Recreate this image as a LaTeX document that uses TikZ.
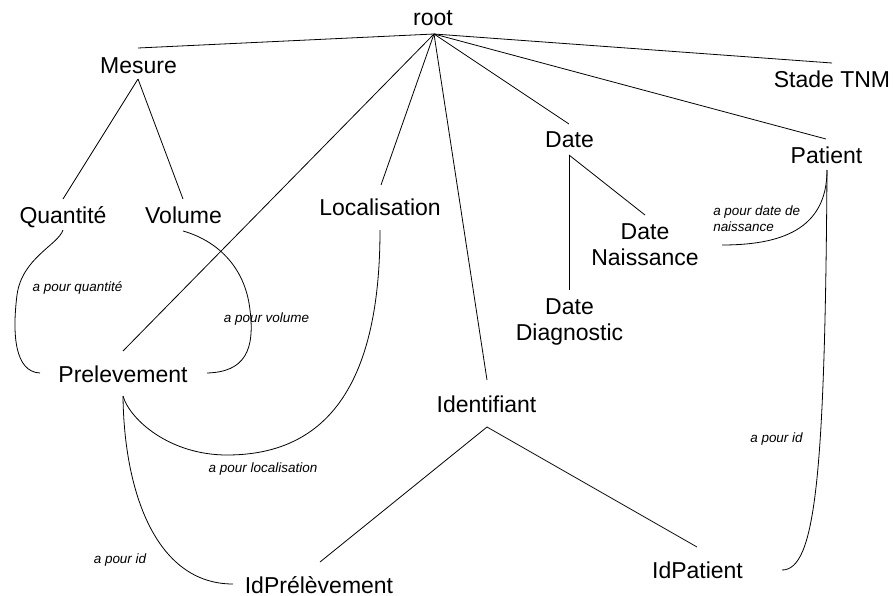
\documentclass[tikz,border=0pt]{standalone}
\usepackage{fontspec}
\setmainfont{Liberation Sans}[ItalicFont={Liberation Sans Italic}]
\begin{document}
\begin{tikzpicture}[x=0.75pt,y=-0.75pt,
  concept/.style={inner sep=0pt,font=\fontsize{17.25}{19.5}\selectfont},
  rel/.style={inner sep=0pt,font=\fontsize{10.1}{12}\selectfont\itshape},
  link/.style={draw=black,line width=0.6pt}]
\useasboundingbox (0,0) rectangle (893,596);
% concept nodes
\node[concept,anchor=base] (root) at (433,26) {root};
\node[concept,anchor=base] (mes) at (138.5,73) {Mesure};
\node[concept,anchor=base] (qte) at (63,223) {Quantité};
\node[concept,anchor=base] (vol) at (183.5,223) {Volume};
\node[concept,anchor=base] (prel) at (123,382) {Prelevement};
\node[concept,anchor=base] (loc) at (380,215) {Localisation};
\node[concept,anchor=base] (ident) at (486.5,412) {Identifiant};
\node[concept,anchor=base] (idprel) at (319,593) {IdPrélèvement};
\node[concept,anchor=base] (idpat) at (697.5,578) {IdPatient};
\node[concept,anchor=base] (date) at (569.5,147) {Date};
\node[concept,align=center] (dnais) at (645,245) {Date\\Naissance};
\node[concept,align=center] (ddiag) at (569.5,322) {Date\\Diagnostic};
\node[concept,anchor=base] (tnm) at (832,87) {Stade TNM};
\node[concept,anchor=base] (pat) at (826.5,163) {Patient};
% connector ends
\coordinate (rootB) at (434,34);
\coordinate (mesT) at (138,48);
\coordinate (mesB) at (138,79);
\coordinate (qteT) at (63,199);
\coordinate (qteB) at (63,230);
\coordinate (volT) at (183,199);
\coordinate (volB) at (183,231);
\coordinate (prelT) at (123,351);
\coordinate (prelL) at (40,373);
\coordinate (prelR) at (207,373);
\coordinate (prelB) at (123,396);
\coordinate (locT) at (381,185);
\coordinate (locB) at (380,230);
\coordinate (identT) at (487,380);
\coordinate (identB) at (487,427);
\coordinate (idprelT) at (320,562);
\coordinate (idprelL) at (233,584);
\coordinate (idpatT) at (697,547);
\coordinate (dateT) at (569,124);
\coordinate (dateB) at (569,155);
\coordinate (dnaisT) at (645,215);
\coordinate (dnaisR) at (722,245);
\coordinate (ddiagT) at (569,290);
\coordinate (tnmT) at (832,63);
\coordinate (patT) at (826,139);
\coordinate (patB) at (827,170);
\coordinate (idpatR) at (782,570);
% tree edges
\draw[link] (rootB) -- (mesT);
\draw[link] (rootB) -- (prelT);
\draw[link] (rootB) -- (locT);
\draw[link] (rootB) -- (identT);
\draw[link] (rootB) -- (dateT);
\draw[link] (rootB) -- (patT);
\draw[link] (rootB) -- (tnmT);
\draw[link] (mesB) -- (qteT);
\draw[link] (mesB) -- (volT);
\draw[link] (dateB) -- (ddiagT);
\draw[link] (dateB) -- (dnaisT);
\draw[link] (identB) -- (idprelT);
\draw[link] (identB) -- (idpatT);
% relations
\draw[link] (qteB) .. controls (58,245) and (22,258) .. (17,295)
                   .. controls (12,335) and (15,372) .. (prelL);
\draw[link] (volB) .. controls (215,240) and (245,265) .. (250,310)
                   .. controls (255,350) and (245,372) .. (prelR);
\draw[link] (prelB) .. controls (130,420) and (170,455) .. (227,455)
                    .. controls (330,455) and (380,380) .. (locB);
\draw[link] (prelB) .. controls (124,490) and (155,584) .. (idprelL);
\draw[link] (patB) .. controls (827,230) and (780,245) .. (dnaisR);
\draw[link] (patB) .. controls (825,480) and (815,570) .. (idpatR);
% relation labels
\node[rel,anchor=base] (l1) at (77.5,291) {a pour quantité};
\node[rel,anchor=base] (l2) at (266.5,322) {a pour volume};
\node[rel,anchor=base] (l3) at (263,472) {a pour localisation};
\node[rel,anchor=base] (l4) at (120,563) {a pour id};
\node[rel,anchor=north west,align=left] (l5) at (713,205) {a pour date de\\naissance};
\node[rel,anchor=base] (l6) at (776.5,442) {a pour id};
\end{tikzpicture}
\end{document}
